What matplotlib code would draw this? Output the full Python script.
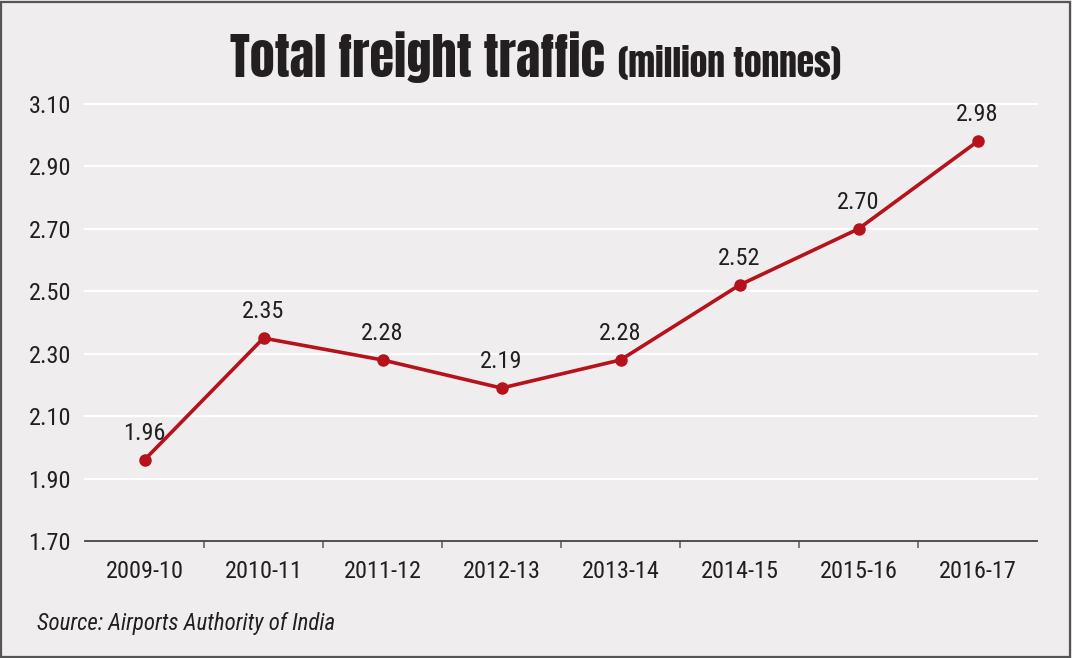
import numpy as np
import matplotlib.pyplot as plt
from matplotlib.patches import Rectangle

# data
years = ['2009-10', '2010-11', '2011-12', '2012-13',
         '2013-14', '2014-15', '2015-16', '2016-17']
freight = [1.96, 2.35, 2.28, 2.19, 2.28, 2.52, 2.70, 2.98]
yticks = [1.70, 1.90, 2.10, 2.30, 2.50, 2.70, 2.90, 3.10]

bg = '#efedee'
red = '#b5121b'
txt = '#231f20'
narrow = ['Roboto Condensed', 'Archivo Narrow', 'DejaVu Sans']
heavy = ['Anton', 'Roboto Condensed', 'DejaVu Sans']

fig = plt.figure(figsize=(10.72, 6.58), dpi=100, facecolor=bg)
ax = fig.add_axes([85/1072, 1 - 541/658, (1037-85)/1072, (541-104)/658])
ax.set_facecolor(bg)

x = np.arange(len(years))
ax.set_xlim(-0.5, len(years) - 0.5)
ax.set_ylim(yticks[0], yticks[-1])

# white grid lines
for y in yticks[1:]:
    ax.axhline(y, color='white', lw=1.6, zorder=1, clip_on=False)

ax.plot(x, freight, color=red, lw=2.6, marker='o', ms=8, zorder=3,
        solid_capstyle='round')
for xi, v in zip(x, freight):
    ax.annotate(f'{v:.2f}', (xi, v), xytext=(0, 11), textcoords='offset points',
                ha='center', va='bottom', fontsize=17.5, color=txt, family=narrow)

for s in ['top', 'right', 'left']:
    ax.spines[s].set_visible(False)
ax.spines['bottom'].set_color('#444444')
ax.spines['bottom'].set_linewidth(1.3)

ax.set_yticks(yticks)
ax.set_yticklabels([f'{t:.2f}' for t in yticks], family=narrow, fontsize=17.5, color=txt)
ax.tick_params(axis='y', length=0, pad=10)

# category labels centred, tick marks on the boundaries
ax.set_xticks(x)
ax.set_xticklabels(years, family=narrow, fontsize=17.5, color=txt)
ax.set_xticks(x[:-1] + 0.5, minor=True)
ax.tick_params(axis='x', which='major', length=0, pad=14)
ax.tick_params(axis='x', which='minor', length=5, width=1.2, color='#666666',
               direction='out')

# title in two parts, centred together
base = 1 - 77/658
t1 = fig.text(0, base, 'Total freight traffic', fontsize=36,
              family=heavy, color=txt, ha='left', va='baseline')
t2 = fig.text(0, base, '(million tonnes)', fontsize=25.5,
              family=heavy, color=txt, ha='left', va='baseline')
fig.canvas.draw()
inv = fig.transFigure.inverted()
w1 = t1.get_window_extent().transformed(inv).width
w2 = t2.get_window_extent().transformed(inv).width
gap = 13/1072
x0 = 0.5 - (w1 + gap + w2) / 2
t1.set_x(x0)
t2.set_x(x0 + w1 + gap)

fig.text(37/1072, 1 - 630/658, 'Source: Airports Authority of India', fontsize=16.5,
         style='italic', family=narrow, color=txt, ha='left', va='baseline')

# frame around the graphic
fig.patches.append(Rectangle((0.001, 0.0015), 0.997, 0.996, transform=fig.transFigure,
                             fill=False, edgecolor='#555555', lw=1.6))

fig.savefig('out.png', dpi=100, facecolor=bg)
